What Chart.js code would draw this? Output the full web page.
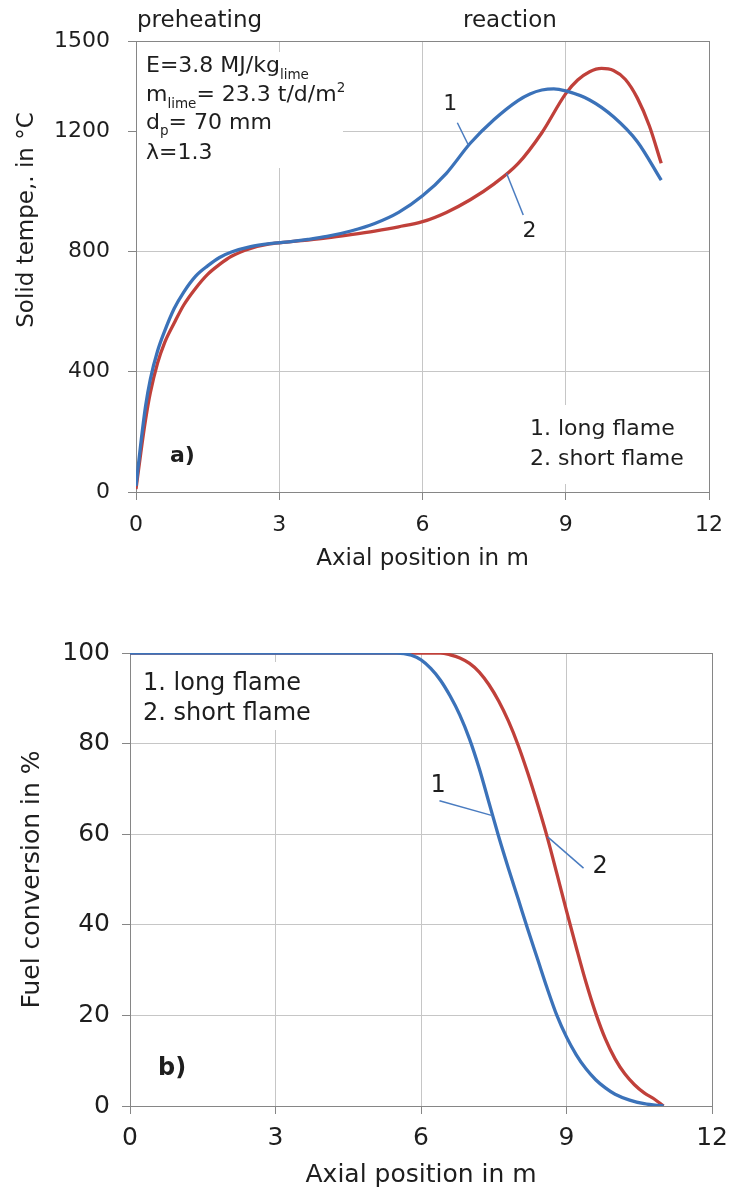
<!DOCTYPE html>
<html><head><meta charset="utf-8">
<script src="https://cdn.jsdelivr.net/npm/chart.js@4.4.1/dist/chart.umd.min.js"></script>
<style>
html,body{margin:0;padding:0;background:#fff;width:737px;height:1191px;overflow:hidden}
#c1{position:absolute;left:0;top:0}
#c2{position:absolute;left:0;top:595px}
</style></head><body>
<canvas id="c1" width="737" height="595"></canvas>
<canvas id="c2" width="737" height="596"></canvas>
<script>
// ---------- data ----------
// a) solid temperature, °C, vs axial position, m
const posLongT  = [0,0.1,0.2,0.3,0.45,0.6,0.8,1.0,1.25,1.5,1.75,2.0,2.4,2.8,3.2,3.6,4.0,4.5,5.0,5.5,6.0,6.5,7.0,7.5,8.0,8.25,8.5,8.75,9.0,9.5,10.0,10.5,11.0];
const tempLong  = [20,160,285,375,468,535,610,665,718,752,780,798,816,826,832,840,850,868,893,930,985,1060,1160,1239,1302,1324,1337,1341,1334,1304,1248,1165,1037];
const posShortT = [0,0.1,0.2,0.3,0.45,0.6,0.8,1.0,1.25,1.5,1.75,2.0,2.4,2.8,3.2,3.6,4.0,4.5,5.0,5.5,6.0,6.5,7.0,7.5,8.0,8.5,9.0,9.25,9.5,9.75,10.0,10.25,10.5,10.75,11.0];
const tempShort = [10,130,240,330,428,497,562,622,678,724,757,784,810,825,832,838,845,856,868,882,899,930,972,1025,1092,1195,1325,1370,1398,1409,1402,1372,1310,1218,1093];
// b) fuel conversion, %, vs axial position, m
const posLongF  = [0,5.5,5.8,6.0,6.2,6.4,6.6,6.8,7.0,7.2,7.4,7.6,7.8,8.0,8.2,8.4,8.6,8.8,9.0,9.2,9.4,9.6,9.8,10.0,10.3,10.6,11.0];
const convLong  = [100,100,99.5,98.5,96.6,94,90.5,86.3,81,74.5,67,59.5,52.5,45.8,39,32.5,26,20,15.2,11.3,8.2,5.8,4,2.6,1.3,0.5,0];
const posShortF = [0,6.4,6.6,6.8,7.0,7.2,7.4,7.6,7.8,8.0,8.2,8.4,8.6,8.8,9.0,9.2,9.4,9.6,9.8,10.0,10.2,10.4,10.6,10.8,11.0];
const convShort = [100,100,99.6,98.9,97.7,95.8,93,89.4,85,79.7,73.5,66.7,59.4,51.3,43,35,27.3,20.5,14.8,10.4,7.1,4.7,2.9,1.6,0];
// ticks
const xTicks    = [0,3,6,9,12];
const tempTicks = [0,400,800,1200,1500];
const convTicks = [0,20,40,60,80,100];
const seriesNames = ['1. long flame','2. short flame'];
// callouts: label position and leader line in data coordinates
const calloutsTop = [
  {text:'1', at:[6.58,1290], from:[6.73,1228], to:[6.96,1154]},
  {text:'2', at:[8.24,868],  from:[7.76,1060], to:[8.11,921]}
];
const calloutsBot = [
  {text:'1', at:[6.35,70.6], from:[6.38,67.4], to:[7.47,64.1]},
  {text:'2', at:[9.69,52.8], from:[8.61,59.4], to:[9.35,52.5]}
];

// ---------- styles ----------
const FONT = "'DejaVu Sans', sans-serif";
const TXT = '#1e1e1e';
const BLUE = '#3b72b9', RED = '#c0403a';
const GRID = '#c6c6c6', AXIS = '#868686', LEAD = '#4a7cc0';

const xy = (xs, ys) => xs.map((x, i) => ({x, y: ys[i]}));

function rich(ctx, x, y, parts) {
  let cx = x;
  for (const [t, size, dy, bold] of parts) {
    ctx.font = (bold ? 'bold ' : '') + size + 'px ' + FONT;
    ctx.fillText(t, cx, y + (dy || 0));
    cx += ctx.measureText(t).width;
  }
}

function framePlugin(boxes) {
  return {
    id: 'frame',
    beforeDatasetsDraw(chart) {
      const {ctx, chartArea: a} = chart;
      ctx.save();
      ctx.strokeStyle = AXIS; ctx.lineWidth = 1;
      ctx.strokeRect(Math.round(a.left) + 0.5, Math.round(a.top) + 0.5, Math.round(a.right - a.left), Math.round(a.bottom - a.top));
      ctx.fillStyle = '#fff';
      for (const b of boxes(a)) ctx.fillRect(b[0], b[1], b[2], b[3]);
      ctx.restore();
    }
  };
}

function calloutPlugin(list, size) {
  return {
    id: 'callouts',
    afterDatasetsDraw(chart) {
      const {ctx, scales: {x, y}} = chart;
      ctx.save();
      ctx.strokeStyle = LEAD; ctx.lineWidth = 1.5;
      ctx.fillStyle = TXT; ctx.font = size + 'px ' + FONT;
      ctx.textAlign = 'center'; ctx.textBaseline = 'middle';
      for (const c of list) {
        ctx.beginPath();
        ctx.moveTo(x.getPixelForValue(c.from[0]), y.getPixelForValue(c.from[1]));
        ctx.lineTo(x.getPixelForValue(c.to[0]), y.getPixelForValue(c.to[1]));
        ctx.stroke();
        ctx.fillText(c.text, x.getPixelForValue(c.at[0]), y.getPixelForValue(c.at[1]));
      }
      ctx.restore();
    }
  };
}

function ds(label, data, color) {
  return {label, data, showLine: true, borderColor: color, backgroundColor: color,
          borderWidth: 3.3, pointRadius: 0, cubicInterpolationMode: 'monotone', fill: false};
}

const plain = v => String(v);

function axisX(fs, pad, titlePadBottom, titleSize, h) {
  return {
    type: 'linear', min: 0, max: 12,
    afterBuildTicks(s) { s.ticks = xTicks.map(v => ({value: v})); },
    ticks: {color: TXT, font: {family: FONT, size: fs}, padding: pad, maxRotation: 0, callback: plain},
    grid: {color: GRID, tickColor: AXIS, tickLength: 8, lineWidth: 1},
    border: {color: AXIS, width: 1},
    title: {display: true, text: 'Axial position in m', color: TXT,
            font: {family: FONT, size: titleSize}, padding: {top: 0, bottom: titlePadBottom}},
    afterFit(s) { s.height = h; }
  };
}

// ---------- chart a) ----------
new Chart(document.getElementById('c1'), {
  type: 'scatter',
  data: {datasets: [
    ds(seriesNames[0], xy(posLongT, tempLong), BLUE),
    ds(seriesNames[1], xy(posShortT, tempShort), RED)
  ]},
  options: {
    responsive: false, animation: false, devicePixelRatio: 1,
    layout: {padding: {left: 0, top: 41, right: 28, bottom: 0}},
    plugins: {legend: {display: false}, tooltip: {enabled: false}},
    scales: {
      x: axisX(22, 12, 22, 23, 103),
      y: {
        type: 'linear', min: 0, max: 1500,
        afterBuildTicks(s) { s.ticks = tempTicks.map(v => ({value: v})); },
        ticks: {color: TXT, font: {family: FONT, size: 22}, padding: 18, callback: plain},
        grid: {color: GRID, tickColor: AXIS, tickLength: 8, lineWidth: 1},
        border: {color: AXIS, width: 1},
        title: {display: false, text: 'Solid tempe,. in °C'},
        afterFit(s) { s.width = 136; }
      }
    }
  },
  plugins: [
    framePlugin(a => [[a.left + 1, a.top + 11, 206, 116], [a.left + 386, a.bottom - 87, 180, 79]]),
    calloutPlugin(calloutsTop, 22),
    {
      id: 'textA',
      afterDraw(chart) {
        const {ctx, chartArea: a} = chart;
        ctx.save();
        ctx.fillStyle = TXT; ctx.textAlign = 'left'; ctx.textBaseline = 'alphabetic';
        // phase labels
        rich(ctx, a.left + 1, 26.7, [['preheating', 23]]);
        rich(ctx, a.left + 327, 27, [['reaction', 23]]);
        // parameters
        const px = a.left + 10;
        rich(ctx, px, a.top + 30.7, [['E=3.8 MJ/kg', 22], ['lime', 13.5, 7]]);
        rich(ctx, px, a.top + 59.7, [['m', 22], ['lime', 13.5, 7], ['= 23.3 t/d/m', 22], ['2', 13.5, -9]]);
        rich(ctx, px, a.top + 88.3, [['d', 22], ['p', 13.5, 6], ['= 70 mm', 22]]);
        rich(ctx, px, a.top + 118.3, [['λ=1.3', 22]]);
        // panel label and series legend
        rich(ctx, a.left + 34, a.bottom - 30, [['a)', 22, 0, true]]);
        rich(ctx, a.left + 394, a.bottom - 57, [[seriesNames[0], 22]]);
        rich(ctx, a.left + 394, a.bottom - 27, [[seriesNames[1], 22]]);
        // y axis title
        ctx.translate(27, 220);
        ctx.rotate(-Math.PI / 2);
        ctx.textAlign = 'center'; ctx.textBaseline = 'middle';
        ctx.font = '23px ' + FONT;
        ctx.fillText(chart.options.scales.y.title.text, 0, 0);
        ctx.restore();
      }
    }
  ]
});

// ---------- chart b) ----------
new Chart(document.getElementById('c2'), {
  type: 'scatter',
  data: {datasets: [
    ds(seriesNames[0], xy(posLongF, convLong), BLUE),
    ds(seriesNames[1], xy(posShortF, convShort), RED)
  ]},
  options: {
    responsive: false, animation: false, devicePixelRatio: 1,
    layout: {padding: {left: 0, top: 58, right: 19, bottom: 0}},
    plugins: {legend: {display: false}, tooltip: {enabled: false}},
    scales: {
      x: axisX(25, 9, 1, 25, 85),
      y: {
        type: 'linear', min: 0, max: 100,
        afterBuildTicks(s) { s.ticks = convTicks.map(v => ({value: v})); },
        ticks: {color: TXT, font: {family: FONT, size: 25}, padding: 12, callback: plain},
        grid: {color: GRID, tickColor: AXIS, tickLength: 8, lineWidth: 1},
        border: {color: AXIS, width: 1},
        title: {display: true, text: 'Fuel conversion in %', color: TXT,
                font: {family: FONT, size: 25}, padding: {top: 17, bottom: 0}},
        afterFit(s) { s.width = 130; }
      }
    }
  },
  plugins: [
    framePlugin(a => [[a.left + 7, a.top + 9, 181, 68]]),
    calloutPlugin(calloutsBot, 24),
    {
      id: 'textB',
      afterDraw(chart) {
        const {ctx, chartArea: a} = chart;
        ctx.save();
        ctx.fillStyle = TXT; ctx.textAlign = 'left'; ctx.textBaseline = 'alphabetic';
        rich(ctx, a.left + 13, a.top + 37, [[seriesNames[0], 24]]);
        rich(ctx, a.left + 13, a.top + 67, [[seriesNames[1], 24]]);
        rich(ctx, a.left + 28, a.bottom - 31, [['b)', 24, 0, true]]);
        ctx.restore();
      }
    }
  ]
});
</script>
</body></html>
